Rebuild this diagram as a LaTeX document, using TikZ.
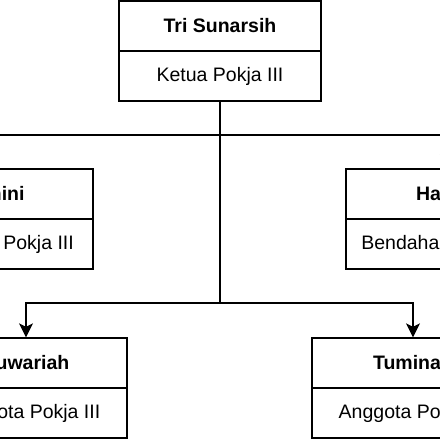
\documentclass[tikz,border=0pt]{standalone}
\usepackage{fontspec}
\setmainfont{Liberation Sans}
\usetikzlibrary{arrows.meta}

\tikzset{
    namebox/.style={draw, line width=1.3pt, minimum width=202pt, minimum height=50pt,
        inner sep=0pt, font=\bfseries\fontsize{19.5}{23}\selectfont},
    rolebox/.style={draw, line width=1.3pt, minimum width=202pt, minimum height=50pt,
        inner sep=0pt, font=\fontsize{19.5}{23}\selectfont},
    linkarrow/.style={line width=1.3pt, -{Stealth[length=14pt 0 0, width=14pt 0 0, inset=3.5pt 0]}}
}

\begin{document}
\begin{tikzpicture}[x=1pt, y=1pt]
    \useasboundingbox (0,0) rectangle (440,440);
    \clip (0,0) rectangle (440,440);

    % Ketua
    \node[namebox] (ketua) at (220,414) {Tri Sunarsih};
    \node[rolebox] (ketuarole) at (220,364) {Ketua Pokja III};

    % Sekretaris and Bendahara
    \node[namebox] (sekretaris) at (-8,246) {Sumini};
    \node[rolebox] (sekretarisrole) at (-8,196) {Sekretaris Pokja III};
    \node[namebox] (bendahara) at (447,246) {Hartini};
    \node[rolebox] (bendahararole) at (447,196) {Bendahara Pokja III};

    % Anggota
    \node[namebox] (suwariah) at (26,77) {Suwariah};
    \node[rolebox] (suwariahrole) at (26,27) {Anggota Pokja III};
    \node[namebox] (tuminah) at (413,77) {Tuminah};
    \node[rolebox] (tuminahrole) at (413,27) {Anggota Pokja III};

    % bend levels
    \coordinate (bar1) at (0,305);
    \coordinate (bar2) at (0,137);

    % Connectors
    \draw[linkarrow] (ketuarole.south) -- (ketuarole.south |- bar1) -| (sekretaris.north);
    \draw[linkarrow] (ketuarole.south) -- (ketuarole.south |- bar1) -| (bendahara.north);
    \draw[linkarrow] (ketuarole.south) -- (ketuarole.south |- bar2) -| (suwariah.north);
    \draw[linkarrow] (ketuarole.south) -- (ketuarole.south |- bar2) -| (tuminah.north);

\end{tikzpicture}
\end{document}
